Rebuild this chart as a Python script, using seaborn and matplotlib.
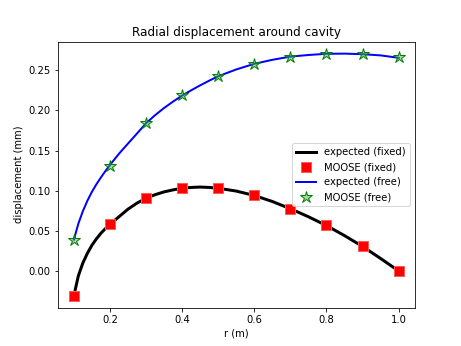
import matplotlib
matplotlib.use("Agg")
import matplotlib.pyplot as plt
import seaborn as sns

# expected curves
r_exp = [0.1, 0.1125, 0.125, 0.1375, 0.15, 0.1625, 0.175, 0.1875, 0.2,
         0.225, 0.25, 0.275, 0.3, 0.325, 0.35, 0.375, 0.4, 0.425, 0.45, 0.475, 0.5,
         0.55, 0.6, 0.65, 0.7, 0.75, 0.8, 0.85, 0.9, 0.95, 1.0]
exp_fixed = [-0.031, -0.006, 0.010, 0.022, 0.032, 0.040, 0.047, 0.0528, 0.058,
             0.0675, 0.077, 0.0845, 0.0905, 0.095, 0.0985, 0.101, 0.103, 0.104, 0.1045, 0.104, 0.103,
             0.0995, 0.094, 0.0865, 0.0775, 0.0675, 0.0565, 0.044, 0.0305, 0.0155, 0.0]
exp_free = [0.039, 0.059, 0.0745, 0.0875, 0.0985, 0.108, 0.1165, 0.1245, 0.132,
            0.146, 0.1587, 0.1712, 0.184, 0.194, 0.203, 0.211, 0.2185, 0.225, 0.2312, 0.237, 0.2425,
            0.251, 0.258, 0.263, 0.267, 0.269, 0.2705, 0.2707, 0.270, 0.2685, 0.2655]

# MOOSE results
r_moose = [0.1, 0.2, 0.3, 0.4, 0.5, 0.6, 0.7, 0.8, 0.9, 1.0]
moose_fixed = [-0.031, 0.058, 0.0905, 0.103, 0.103, 0.094, 0.0777, 0.057, 0.0305, 0.0]
moose_free = [0.0387, 0.1313, 0.184, 0.2186, 0.2423, 0.258, 0.267, 0.2706, 0.2702, 0.2665]

fig, ax = plt.subplots(figsize=(461/72, 346/72), dpi=72)

sns.lineplot(x=r_exp, y=exp_fixed, ax=ax, color="black", linewidth=3,
             label="expected (fixed)", sort=False, estimator=None)
sns.lineplot(x=r_moose, y=moose_fixed, ax=ax, color="red", marker="s", linestyle="",
             markersize=10, markerfacecolor="red", markeredgecolor=(1, 0.35, 0.35),
             markeredgewidth=1.0, label="MOOSE (fixed)", sort=False, estimator=None)
sns.lineplot(x=r_exp, y=exp_free, ax=ax, color="blue", linewidth=2,
             label="expected (free)", sort=False, estimator=None)
sns.lineplot(x=r_moose, y=moose_free, ax=ax, color="green", marker="*", linestyle="",
             markersize=12, markerfacecolor=(0.3, 0.7, 0.3, 0.5), markeredgecolor="green",
             markeredgewidth=1.0, label="MOOSE (free)", sort=False, estimator=None)

ax.set_title("Radial displacement around cavity")
ax.set_xlabel("r (m)")
ax.set_ylabel("displacement (mm)")
ax.legend(loc="center right")

fig.savefig("out.png", dpi=72)
